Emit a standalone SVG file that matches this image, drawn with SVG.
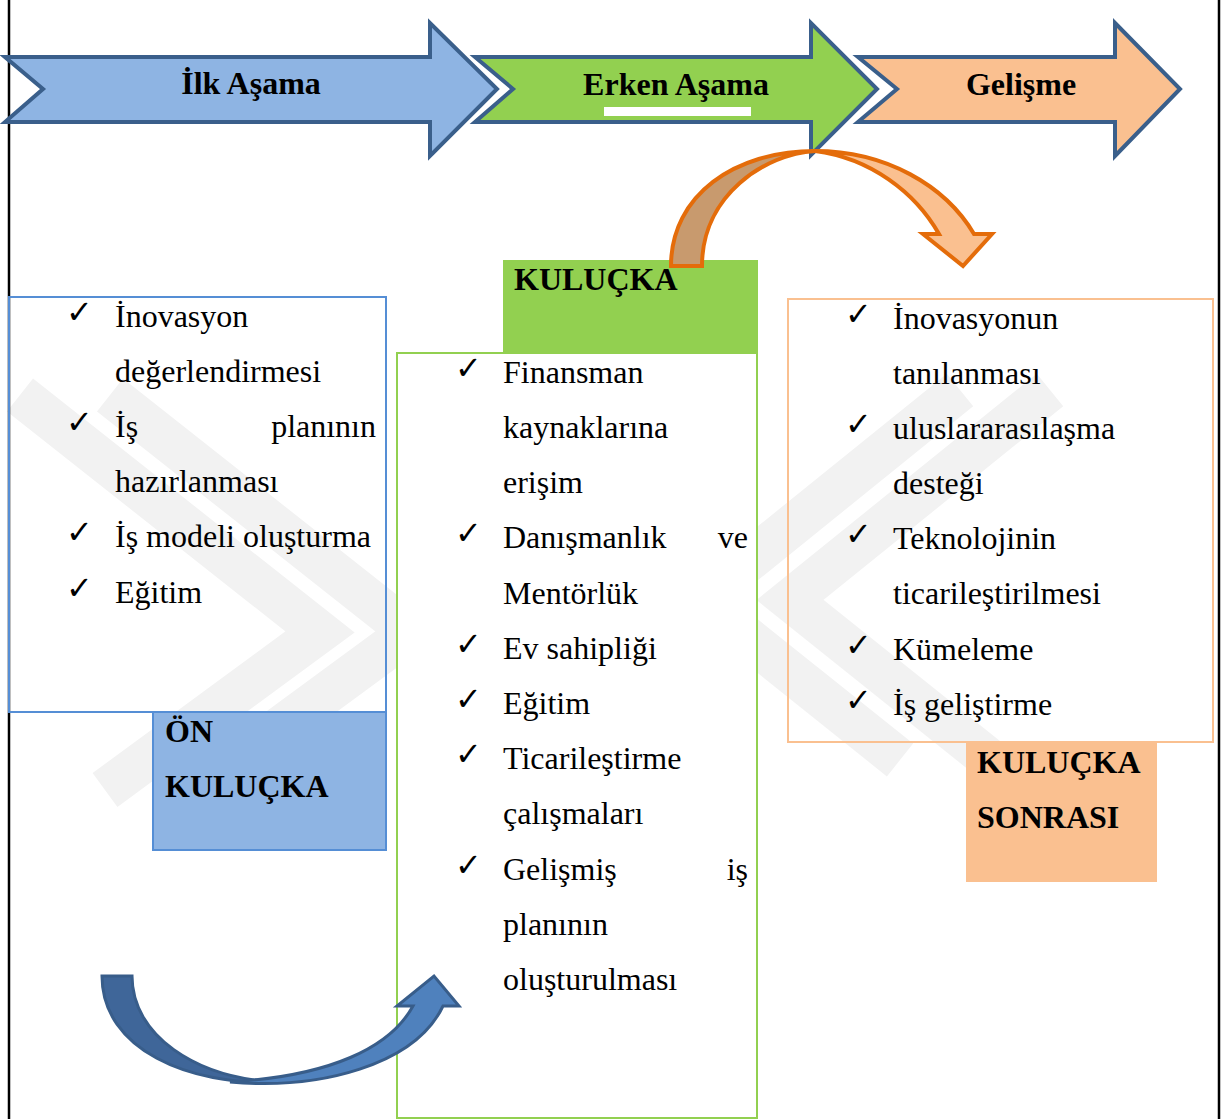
<svg xmlns="http://www.w3.org/2000/svg" width="1229" height="1119" viewBox="0 0 1229 1119">
<style>
.t{font-family:'Liberation Serif','Times New Roman',serif;font-size:32px;fill:#000}
.b{font-family:'Liberation Serif','Times New Roman',serif;font-size:32px;font-weight:bold;fill:#000}
.ck{font-family:'DejaVu Sans',sans-serif;font-size:32px;fill:#000}
.arr{stroke:#3A5F8B;stroke-width:4;stroke-linejoin:miter}
.wm{fill:none;stroke:#F2F2F2;stroke-width:42;stroke-linejoin:miter}
</style>
<rect width="1229" height="1119" fill="#fff"/>
<g id="watermark">
<polyline class="wm" points="20,395 320,632 105,790"/>
<polyline class="wm" points="110,395 410,632 195,790"/>
<polyline class="wm" points="960,390 700,600 900,760"/>
<polyline class="wm" points="1050,390 790,600 990,760"/>
</g>
<g id="frame">
<line x1="9" y1="0" x2="9" y2="1119" stroke="#000" stroke-width="2.5"/>
<line x1="1219" y1="0" x2="1219" y2="1119" stroke="#000" stroke-width="2.5"/>
</g>
<g id="stage-ilk">
<polygon class="arr" fill="#8EB4E3" points="5,57 430,57 430,23 497,89 430,156 430,122 5,122 43,89"/>
<text class="b" x="251" y="94" text-anchor="middle">İlk Aşama</text>
</g>
<g id="stage-erken">
<polygon class="arr" fill="#92D050" points="475,57 811,57 811,23 877,89 811,155 811,122 475,122 513,89"/>
<text class="b" x="676" y="95" text-anchor="middle">Erken Aşama</text>
<rect x="604" y="107" width="147" height="9" fill="#fff"/>
</g>
<g id="stage-gelisme">
<polygon class="arr" fill="#FAC090" points="858,57 1115,57 1115,23 1180,89 1115,156 1115,122 858,122 897,89"/>
<text class="b" x="1021" y="95" text-anchor="middle">Gelişme</text>
</g>
<g id="on-kulucka-list">
<rect x="9" y="297" width="377" height="415" fill="none" stroke="#558ED5" stroke-width="2"/>
<text class="ck" x="66" y="323">✓</text><text class="t" x="115" y="327">İnovasyon</text>
<text class="t" x="115" y="382">değerlendirmesi</text>
<text class="ck" x="66" y="433">✓</text><text class="t" x="115" y="437">İş</text><text class="t" x="376" y="437" text-anchor="end">planının</text>
<text class="t" x="115" y="492">hazırlanması</text>
<text class="ck" x="66" y="543">✓</text><text class="t" x="115" y="547">İş modeli oluşturma</text>
<text class="ck" x="66" y="599">✓</text><text class="t" x="115" y="603">Eğitim</text>
</g>
<g id="on-kulucka-label">
<rect x="153" y="712" width="233" height="138" fill="#8EB4E3" stroke="#558ED5" stroke-width="2"/>
<text class="b" x="165" y="742">ÖN</text>
<text class="b" x="165" y="797">KULUÇKA</text>
</g>
<g id="kulucka-label">
<rect x="503" y="260" width="255" height="93" fill="#92D050"/>
<text class="b" x="514" y="290">KULUÇKA</text>
</g>
<g id="kulucka-list">
<rect x="397" y="353" width="360" height="765" fill="#fff" stroke="#92D050" stroke-width="2"/>
<text class="ck" x="455" y="379">✓</text><text class="t" x="503" y="383">Finansman</text>
<text class="t" x="503" y="438">kaynaklarına</text>
<text class="t" x="503" y="493">erişim</text>
<text class="ck" x="455" y="544">✓</text><text class="t" x="503" y="548">Danışmanlık</text><text class="t" x="748" y="548" text-anchor="end">ve</text>
<text class="t" x="503" y="604">Mentörlük</text>
<text class="ck" x="455" y="655">✓</text><text class="t" x="503" y="659">Ev sahipliği</text>
<text class="ck" x="455" y="710">✓</text><text class="t" x="503" y="714">Eğitim</text>
<text class="ck" x="455" y="765">✓</text><text class="t" x="503" y="769">Ticarileştirme</text>
<text class="t" x="503" y="824">çalışmaları</text>
<text class="ck" x="455" y="876">✓</text><text class="t" x="503" y="880">Gelişmiş</text><text class="t" x="748" y="880" text-anchor="end">iş</text>
<text class="t" x="503" y="935">planının</text>
<text class="t" x="503" y="990">oluşturulması</text>
</g>
<g id="kulucka-sonrasi-list">
<rect x="788" y="299" width="425" height="443" fill="none" stroke="#FAC090" stroke-width="2"/>
<text class="ck" x="845" y="325">✓</text><text class="t" x="893" y="329">İnovasyonun</text>
<text class="t" x="893" y="384">tanılanması</text>
<text class="ck" x="845" y="435">✓</text><text class="t" x="893" y="439">uluslararasılaşma</text>
<text class="t" x="893" y="494">desteği</text>
<text class="ck" x="845" y="545">✓</text><text class="t" x="893" y="549">Teknolojinin</text>
<text class="t" x="893" y="604">ticarileştirilmesi</text>
<text class="ck" x="845" y="656">✓</text><text class="t" x="893" y="660">Kümeleme</text>
<text class="ck" x="845" y="711">✓</text><text class="t" x="893" y="715">İş geliştirme</text>
</g>
<g id="kulucka-sonrasi-label">
<rect x="966" y="742" width="191" height="140" fill="#FAC090"/>
<text class="b" x="977" y="773">KULUÇKA</text>
<text class="b" x="977" y="828">SONRASI</text>
</g>
<g id="connectors">
<g stroke="#E46C0A" stroke-width="4" stroke-linejoin="miter">
<path fill="#C89A6E" d="M671,266 C671,195 735,151 815,151 C765,154 702,195 702,266 Z"/>
<path fill="#FAC090" d="M815,151 C885,151 945,185 974,234 L992,234 L963,266 L923,234 L939,234 C915,192 870,158 815,151 Z"/>
</g>
<g stroke="#385D8A" stroke-width="3" stroke-linejoin="miter">
<path fill="#3F6699" d="M102,976 L132,976 C132,1035 195,1078 277,1082 C190,1086 102,1050 102,976 Z"/>
<path fill="#4F81BD" d="M230,1082 C320,1090 415,1065 443,1006 L459,1006 L434,976 L397,1006 L413,1006 C390,1048 330,1076 230,1082 Z"/>
</g>
</g>
</svg>
